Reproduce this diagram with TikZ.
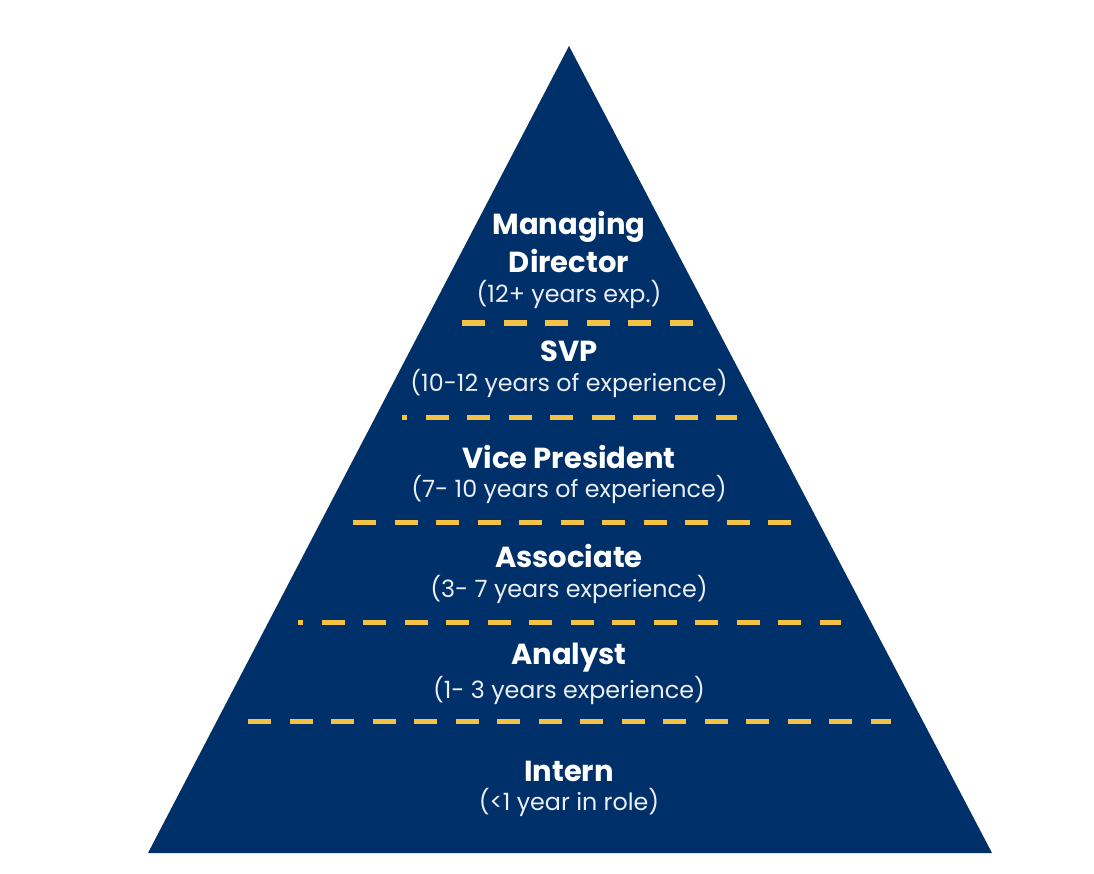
\documentclass[tikz,border=0pt]{standalone}
\usepackage{fontspec}
\setmainfont{Poppins}
\definecolor{navy}{HTML}{00306A}
\definecolor{gold}{HTML}{F4C245}
\begin{document}
\begin{tikzpicture}[x=1pt,y=-1pt,
  title/.style={text=white,font=\fontsize{29}{32}\selectfont\bfseries,inner sep=0pt,anchor=center},
  sub/.style={text=white!92!navy,font=\fontsize{23.8}{26}\selectfont,inner sep=0pt,anchor=center},
  divider/.style={draw=gold,line width=5pt,line cap=butt,dash pattern=on 23pt off 18.5pt}]
\useasboundingbox (0,0) rectangle (1094,874);
\fill[navy] (569,46) -- (992,853) -- (148,853) -- cycle;
% dividers
\coordinate (l1a) at (462,323); \coordinate (l1b) at (693,323);
\coordinate (l2a) at (402,417); \coordinate (l2b) at (737,417);
\coordinate (l3a) at (353,522); \coordinate (l3b) at (791,522);
\coordinate (l4a) at (298,622); \coordinate (l4b) at (841,622);
\coordinate (l5a) at (248,721); \coordinate (l5b) at (891,721);
\draw[divider] (l1a) -- (l1b);
\draw[divider,dash phase=18pt] (l2a) -- (l2b);
\draw[divider] (l3a) -- (l3b);
\draw[divider,dash phase=18pt] (l4a) -- (l4b);
\draw[divider] (l5a) -- (l5b);
% texts
\node[title] (md1) at (569,227) {Managing};
\node[title] (md2) at (569,261) {Director};
\node[sub] (mds) at (569,294) {(12+ years exp.)};
\node[title] (svp) at (569,351) {SVP};
\node[sub] (svps) at (569,383) {(10-12 years of experience)};
\node[title] (vp) at (569,457) {Vice President};
\node[sub] (vps) at (569,489) {(7- 10 years of experience)};
\node[title] (as) at (569,556) {Associate};
\node[sub] (ass) at (569,589) {(3- 7 years experience)};
\node[title] (an) at (569,658) {Analyst};
\node[sub] (ans) at (569,690) {(1- 3 years experience)};
\node[title] (in) at (569,771) {Intern};
\node[sub] (ins) at (569,802) {(<1 year in role)};
\end{tikzpicture}
\end{document}
